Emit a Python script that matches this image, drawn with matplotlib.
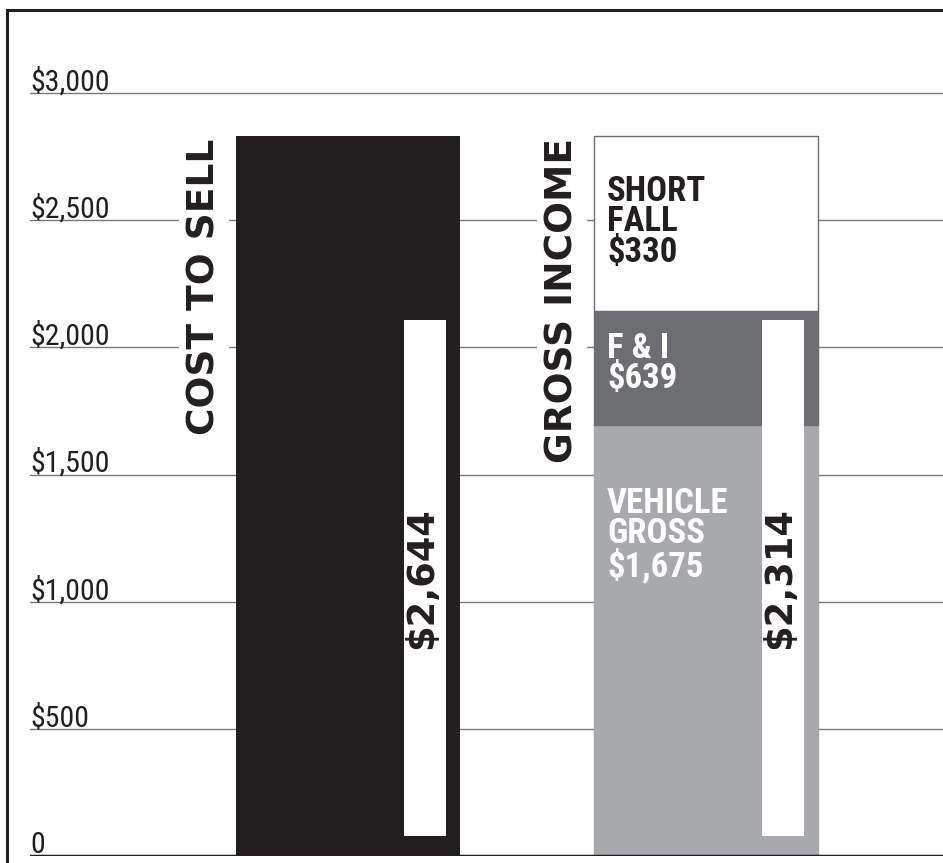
import matplotlib
matplotlib.use('Agg')
import matplotlib.pyplot as plt
from matplotlib.lines import Line2D

# data
categories = ['COST TO SELL', 'GROSS INCOME']
cost_drawn = 2830                      # drawn height of the black bar
segment_names = ['VEHICLE\nGROSS', 'F & I', 'SHORT\nFALL']
segment_labels = [1675, 639, 330]      # printed values
segment_drawn = [1695, 448, 687]       # drawn heights of the stacked pieces
bar_totals = [2644, 2314]              # values in the white boxes
tick_values = [0, 500, 1000, 1500, 2000, 2500, 3000]
tick_labels = ['0', '$500', '$1,000', '$1,500', '$2,000', '$2,500', '$3,000']

# colours
black = '#231f20'
dark_gray = '#6d6e71'
light_gray = '#a7a9ac'
grid_gray = '#7a7a7a'

narrow = ['Roboto Condensed', 'DejaVu Sans']
heavy = ['DejaVu Sans']

fig = plt.figure(figsize=(9.43, 8.63), dpi=100)
ax = fig.add_axes([30 / 943, 7 / 863, 913 / 943, 846 / 863])
ax.set_xlim(-0.888, 1.661)
ax.set_ylim(0, 3327)
ax.axis('off')

# gridlines and baseline
for v in tick_values[1:]:
    ax.axhline(v, color=grid_gray, lw=1, zorder=1)
ax.axhline(0, color=black, lw=2.5, zorder=4)

# y labels sit on top of the gridlines
for v, lab in zip(tick_values, tick_labels):
    ax.text(0, v + 10, lab, transform=ax.get_yaxis_transform(),
            ha='left', va='baseline', fontsize=21.5, family=narrow,
            color=black)

width = 0.626
x = [0, 1]

# cost to sell bar
ax.bar(x[0], cost_drawn, width=width, color=black, zorder=2)

# stacked gross income bar
colors = [light_gray, dark_gray, 'white']
text_colors = ['white', 'white', black]
label_tops = [1451, 2061, 2678]
bottom = 0
for h, c, name, val, tc, lt in zip(segment_drawn, colors, segment_names,
                                   segment_labels, text_colors, label_tops):
    ax.bar(x[1], h, bottom=bottom, width=width, color=c,
           edgecolor=dark_gray if c == 'white' else c, lw=1, zorder=2)
    ax.text(x[1] - width / 2 + 0.036, lt, '%s\n$%s' % (name, format(val, ',')),
            ha='left', va='top', fontsize=25, fontweight='bold',
            family=narrow, color=tc, linespacing=0.9, zorder=5)
    bottom += h

# white boxes with the totals
box_w = 0.117
box_off = width / 2 - 14 / 358 - box_w / 2
box_bottom, box_top = 79, 2106
for xi, total in zip(x, bar_totals):
    ax.bar(xi + box_off, box_top - box_bottom, bottom=box_bottom, width=box_w,
           color='white', zorder=3)
    ax.text(xi + box_off - 0.01, 1093, '$' + format(total, ','), rotation=90,
            ha='center', va='center', fontsize=26.5, fontweight='heavy',
            family=heavy, color=black, zorder=5)

# category titles, rotated, next to each bar
tops = [cost_drawn, sum(segment_drawn)]
for xi, name, t in zip(x, categories, tops):
    ax.text(xi - 0.402, t - 8, name, rotation=90, ha='center', va='top',
            fontsize=27, fontweight='heavy', family=heavy, color=black,
            zorder=5, bbox=dict(facecolor='white', edgecolor='none', pad=5))

# frame on the top and left
fig.add_artist(Line2D([6.5 / 943, 6.5 / 943], [0, 853 / 863],
                      transform=fig.transFigure, color=black, lw=2.2))
fig.add_artist(Line2D([6.5 / 943, 1], [853 / 863, 853 / 863],
                      transform=fig.transFigure, color=black, lw=2.2))

fig.savefig('out.png', dpi=100)
